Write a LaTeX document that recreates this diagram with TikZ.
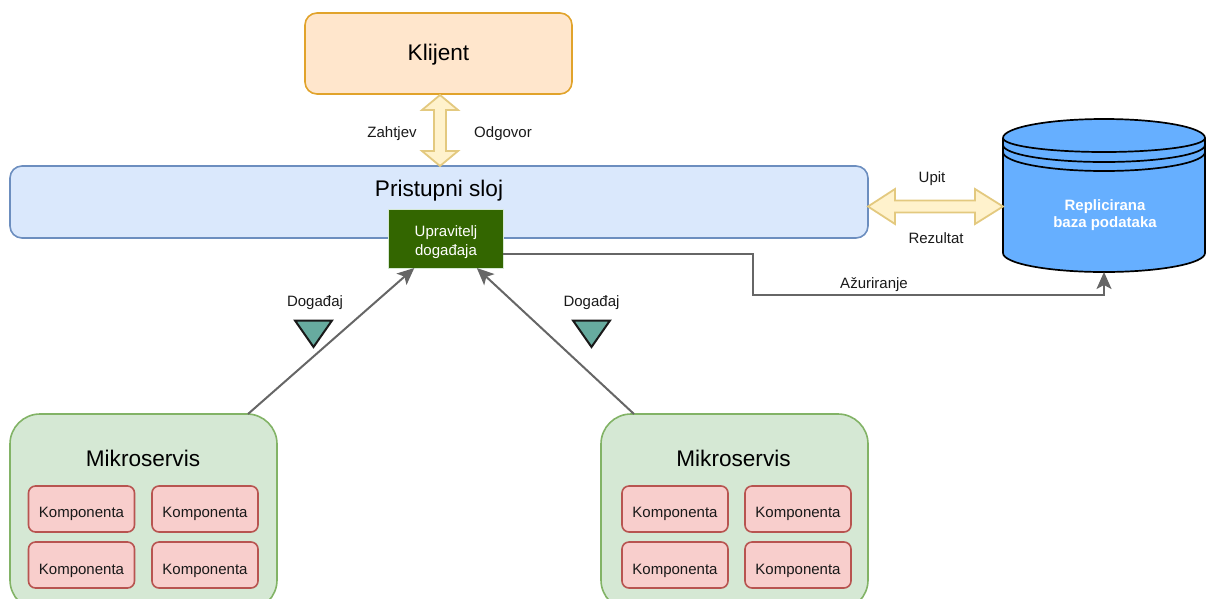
\documentclass[tikz,border=0pt]{standalone}
\usepackage{fontspec}
\setmainfont{Liberation Sans}
\usetikzlibrary{calc,arrows.meta}
\definecolor{orF}{HTML}{FFE6CC}\definecolor{orD}{HTML}{E1A32B}
\definecolor{blF}{HTML}{DAE8FC}\definecolor{blD}{HTML}{6C8EBF}
\definecolor{grF}{HTML}{D5E8D4}\definecolor{grD}{HTML}{82B366}
\definecolor{reF}{HTML}{F8CECC}\definecolor{reD}{HTML}{B85450}
\definecolor{yeF}{HTML}{FFF2CC}\definecolor{yeD}{HTML}{E3C97F}
\definecolor{dbF}{HTML}{66AFFF}\definecolor{upF}{HTML}{336600}
\definecolor{teF}{HTML}{67AB9F}\definecolor{lnC}{HTML}{666666}
\tikzset{
  x=1pt,y=-1pt,
  box/.style={draw,line width=1.6pt,inner sep=0pt,outer sep=0pt,align=center},
  small/.style={font=\fontsize{15}{18}\selectfont,inner sep=0pt,text=black!90,align=center},
  big/.style={font=\fontsize{22.6}{27}\selectfont,inner sep=0pt,text=black},
  comp/.style={box,fill=reF,draw=reD,rounded corners=7pt,minimum width=106pt,minimum height=46pt},
  ms/.style={box,fill=grF,draw=grD,rounded corners=30pt,minimum width=267pt,minimum height=196pt},
  flow/.style={draw=lnC,line width=2pt,-{Stealth[length=17pt,width=15pt,inset=4pt]}},
  block/.style={draw=yeD,fill=yeF,line width=1.8pt,line join=miter},
  tri/.style={draw=black!90,fill=teF,line width=2pt,line join=miter}
}
\begin{document}
\begin{tikzpicture}
\clip (0,0) rectangle (1206,598);
% main boxes
\node[box,fill=orF,draw=orD,rounded corners=12pt,minimum width=267pt,minimum height=81pt] (klijent) at (438.5,53.5) {};
\node[big] (klijentlbl) at (438.5,55) {Klijent};
\node[box,fill=blF,draw=blD,rounded corners=12pt,minimum width=858pt,minimum height=72pt] (pristup) at (439,202) {};
\node[big] (pristuplbl) at (439,191) {Pristupni sloj};
\node[box,fill=upF,draw=grF,line width=1pt,minimum width=114.5pt,minimum height=59pt] (upr) at (445.8,238.5) {};
\node[small,text=white,font=\fontsize{15}{19}\selectfont] (uprlbl) at (446,242) {Upravitelj\\događaja};
% microservices
\node[ms] (msa) at (143.5,512) {};
\node[big] (msalbl) at (143,458) {Mikroservis};
\node[comp] (a1) at (81.5,509) {};
\node[comp] (a2) at (205,509) {};
\node[comp] (a3) at (81.5,565) {};
\node[comp] (a4) at (205,565) {};
\node[small] (a1l) at (81.5,514) {Komponenta};
\node[small] (a2l) at (205,514) {Komponenta};
\node[small] (a3l) at (81.5,570.5) {Komponenta};
\node[small] (a4l) at (205,570.5) {Komponenta};
\node[ms] (msb) at (734.5,512) {};
\node[big] (msblbl) at (733.5,458) {Mikroservis};
\node[comp] (b1) at (675,509) {};
\node[comp] (b2) at (798,509) {};
\node[comp] (b3) at (675,565) {};
\node[comp] (b4) at (798,565) {};
\node[small] (b1l) at (675,514) {Komponenta};
\node[small] (b2l) at (798,514) {Komponenta};
\node[small] (b3l) at (675,570.5) {Komponenta};
\node[small] (b4l) at (798,570.5) {Komponenta};
% database
\node[minimum width=202pt,minimum height=153pt,inner sep=0pt,outer sep=0pt] (db) at (1104,195.5) {};
\draw[fill=dbF,draw=black,line width=1.7pt]
  (1003,138) arc[x radius=101,y radius=19,start angle=180,end angle=360]
  -- (1205,253) arc[x radius=101,y radius=19,start angle=0,end angle=180] -- cycle;
\draw[draw=black,line width=1.7pt,fill=none]
  (1003,138) arc[x radius=101,y radius=14,start angle=180,end angle=0]
  (1003,145) arc[x radius=101,y radius=17,start angle=180,end angle=0]
  (1003,152) arc[x radius=101,y radius=19,start angle=180,end angle=0];
\node[small,text=white,font=\fontsize{15}{17}\bfseries\selectfont] (dblbl) at (1105,215) {Replicirana\\baza podataka};
% block arrows
\draw[block] let \p1=(klijent.south), \p2=(pristup.north) in
  (\x1+1.5pt,\y1-1pt) -- (\x1+19.5pt,\y1-16pt) -- (\x1+7.5pt,\y1-16pt) -- (\x1+7.5pt,\y2+15pt)
  -- (\x1+19.5pt,\y2+15pt) -- (\x1+1.5pt,\y2) -- (\x1-16.5pt,\y2+15pt) -- (\x1-4.5pt,\y2+15pt)
  -- (\x1-4.5pt,\y1-16pt) -- (\x1-16.5pt,\y1-16pt) -- cycle;
\draw[block] let \p1=(pristup.east), \p2=(db.west) in
  (\x1,\y1-4.5pt) -- (\x1+27pt,\y1+13pt) -- (\x1+27pt,\y1+1.5pt) -- (\x2-28pt,\y1+1.5pt)
  -- (\x2-28pt,\y1+13pt) -- (\x2,\y1-4.5pt) -- (\x2-28pt,\y1-22pt) -- (\x2-28pt,\y1-10.5pt)
  -- (\x1+27pt,\y1-10.5pt) -- (\x1+27pt,\y1-22pt) -- cycle;
% connectors
\path (msa.north) ++(104.5,0) coordinate (msaout);
\path (msb.north) ++(-100.5,0) coordinate (msbout);
\path (upr.south) ++(-31.5,0) coordinate (uprin);
\path (upr.south) ++(31,0) coordinate (uprinb);
\path (upr.east) ++(0,15.5) coordinate (uprout);
\draw[flow] (msaout) -- (uprin);
\draw[flow] (msbout) -- (uprinb);
\draw[flow] (uprout) -- (753,254) -- (753,295) -- (db.south |- 0,295) -- (db.south);
% triangles
\draw[tri] (295,320.5) -- (332,320.5) -- (313.5,347) -- cycle;
\draw[tri] (573,320.5) -- (610,320.5) -- (591.5,347) -- cycle;
% labels
\node[small] (zah) at (392,133.5) {Zahtjev};
\node[small] (odg) at (503,133.5) {Odgovor};
\node[small] (upit) at (932,178.5) {Upit};
\node[small] (rez) at (936,238.5) {Rezultat};
\node[small] (azu) at (874,284.5) {Ažuriranje};
\node[small] (doga) at (315,302.5) {Događaj};
\node[small] (dogb) at (591.5,302.5) {Događaj};
\end{tikzpicture}
\end{document}
